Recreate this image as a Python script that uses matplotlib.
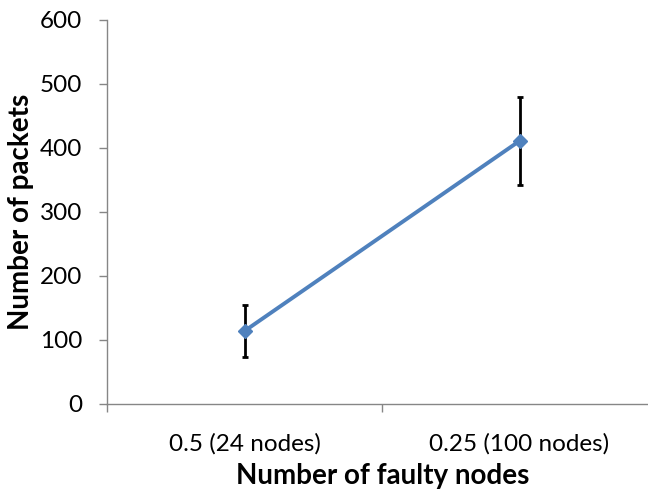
import matplotlib
matplotlib.use("Agg")
import matplotlib.pyplot as plt
import numpy as np

categories = ["0.5 (24 nodes)", "0.25 (100 nodes)"]
packets = [114, 411]
errors = [40, 69]
y_ticks = [0, 100, 200, 300, 400, 500, 600]

plt.rcParams['font.family'] = ['Lato', 'DejaVu Sans']

fig = plt.figure(figsize=(6.48, 4.93), dpi=100)
ax = fig.add_axes([107/648, 1-404/493, 550/648, 384/493])

x = np.arange(len(categories))
ax.errorbar(x, packets, yerr=errors, fmt='none', ecolor='black', elinewidth=2,
            capsize=2.2, capthick=2, zorder=2)
ax.plot(x, packets, color='#4F81BD', lw=2.8, marker='D', ms=7,
        markerfacecolor='#4F81BD', markeredgecolor='#4F81BD', zorder=3)

ax.set_xlim(-0.5, len(categories) - 0.5)
ax.set_ylim(0, 600)
ax.set_yticks(y_ticks)
ax.set_xticks(x)
ax.set_xticklabels(categories)
ax.set_xticks(np.arange(len(categories) + 1) - 0.5, minor=True)

for s in ['top', 'right']:
    ax.spines[s].set_visible(False)
for s in ['left', 'bottom']:
    ax.spines[s].set_color('#868686')
    ax.spines[s].set_linewidth(1)

ax.tick_params(axis='y', direction='out', length=6, width=1, color='#868686',
               labelsize=17.5, pad=12)
ax.tick_params(axis='x', which='major', length=0, labelsize=17.5, pad=21)
ax.tick_params(axis='x', which='minor', direction='out', length=6, width=1, color='#868686')

ax.set_ylabel("Number of packets", fontsize=20, fontweight='bold')
ax.yaxis.set_label_coords((34 - 107) / 550, 0.5)
ax.set_xlabel("Number of faulty nodes", fontsize=20, fontweight='bold')
ax.xaxis.set_label_coords((383 - 107) / 550, -(463 - 404) / 384)

fig.savefig("out.png", dpi=100)
